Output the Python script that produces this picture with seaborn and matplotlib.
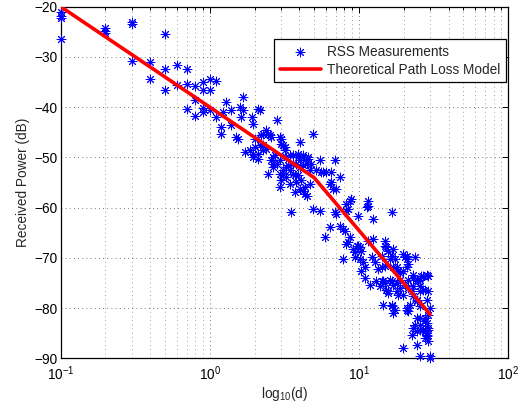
import matplotlib
matplotlib.use("Agg")
import matplotlib.pyplot as plt
import numpy as np
import pandas as pd
import seaborn as sns
from matplotlib.ticker import LogLocator, LogFormatterSciNotation, NullFormatter, FixedLocator

# ---------------- data ----------------
# RSS measurements: distance (m) and received power (dB)
dist_near = [0.1, 0.1, 0.1, 0.1, 0.2, 0.2, 0.2, 0.3, 0.3, 0.3, 0.4, 0.4, 0.5, 0.5, 0.5,
             0.6, 0.6, 0.7, 0.7, 0.7, 0.8, 0.8, 0.8, 0.9, 0.9, 0.9, 0.9, 1.0, 1.0, 1.0, 1.1, 1.1]
rss_near = [-21.0, -21.8, -22.3, -26.5, -24.3, -24.8, -25.3, -23.1, -23.5, -30.9, -31.1, -34.5, -25.5, -32.4, -36.6,
            -31.6, -35.7, -32.4, -35.5, -40.4, -35.8, -38.6, -41.7, -35.1, -36.7, -40.2, -40.9, -34.5, -36.6, -40.5, -34.9, -41.9]

dist_mid = [1.2, 1.2, 1.23, 1.29, 1.4, 1.4, 1.51, 1.55, 1.59, 1.63, 1.67, 1.67, 1.72, 1.85, 1.91,
            1.95, 1.95, 1.95, 2.0, 2.0, 2.11, 2.11, 2.11, 2.17, 2.17, 2.21, 2.28, 2.28, 2.28,
            2.4, 2.4, 2.46, 2.46, 2.53, 2.59, 2.59, 2.66, 2.66, 2.66, 2.74, 2.81, 2.81,
            2.95, 2.95, 2.95, 2.95, 3.03, 3.03, 3.03, 3.1, 3.1, 3.1, 3.19, 3.19, 3.27, 3.27, 3.27,
            3.35, 3.44, 3.44, 3.44, 3.53, 3.62, 3.62, 3.62, 3.72, 3.72, 3.82, 3.82, 3.92, 3.92, 3.92,
            4.02, 4.02, 4.02, 4.02, 4.12, 4.23, 4.23, 4.23, 4.23, 4.34, 4.34, 4.46, 4.46,
            4.57, 4.57, 4.69, 4.69, 4.8, 4.94, 4.94]
rss_mid = [-43.9, -45.3, -40.9, -38.9, -40.6, -43.6, -45.9, -46.3, -39.9, -41.9, -37.9, -40.6, -48.9, -48.6, -41.9,
           -49.3, -43.3, -49.9, -46.3, -47.9, -40.3, -50.3, -49.3, -40.6, -47.6, -45.6, -47.6, -48.6, -45.3,
           -44.6, -48.3, -45.3, -53.3, -45.6, -46.0, -50.6, -51.3, -51.9, -49.9, -49.6, -42.6, -51.3,
           -45.9, -53.3, -50.6, -55.9, -46.3, -47.3, -54.6, -47.6, -52.6, -53.3, -48.6, -47.9, -49.9, -53.9, -51.9,
           -51.6, -49.6, -55.3, -52.6, -60.9, -51.3, -49.6, -53.3, -53.6, -56.9, -51.3, -54.9, -49.3, -49.9, -53.6,
           -46.9, -50.6, -51.9, -56.3, -54.6, -49.6, -56.6, -51.6, -49.9, -55.9, -57.3, -51.3, -57.6,
           -49.9, -50.3, -52.6, -55.3, -51.3, -45.3, -60.3]

dist_far = [5.2, 5.47, 5.47, 5.6, 5.76, 5.91, 6.07, 6.39, 6.39, 6.5, 6.5, 6.73, 6.9, 6.9, 7.08, 7.08,
            7.45, 7.45, 7.85, 7.85, 8.05, 8.26, 8.26, 8.26, 8.48, 8.48, 8.7, 8.7, 8.93, 9.16, 9.4, 9.4,
            9.66, 9.89, 9.89, 10.2, 10.2, 10.4, 10.4, 10.7, 11.0, 11.0, 11.3, 11.5, 11.5, 11.5, 11.9,
            12.2, 12.5, 12.5, 12.8, 13.1, 13.5, 13.8, 14.2, 14.2, 14.2, 14.6, 14.6,
            14.9, 14.9, 14.9, 14.9, 15.3, 15.3, 15.7, 15.7, 15.7, 16.1, 16.1,
            16.6, 16.6, 16.6, 16.6, 16.6, 17.0, 17.0, 17.0, 17.0, 17.5, 17.5, 17.9, 17.9, 17.9,
            18.4, 18.4, 18.8, 18.8, 18.8, 19.8, 19.8, 19.8, 19.8, 20.4, 20.4,
            20.9, 20.9, 20.9, 20.9, 20.9, 21.4, 21.4, 21.4, 21.4, 22.0, 22.6, 22.6,
            23.1, 23.1, 23.1, 23.1, 23.1, 23.8, 23.8, 24.4, 24.4, 24.4, 24.4, 24.4, 24.4, 25.0,
            25.7, 25.7, 25.7, 25.7, 25.7, 25.7, 25.7, 25.7, 26.3, 27.0, 27.0, 27.0,
            27.7, 27.7, 27.7, 27.7, 27.7, 28.5, 28.5, 28.5, 28.5, 28.5,
            29.2, 29.2, 29.2, 29.2, 29.2, 29.2, 30.0, 30.0, 30.0]
rss_far = [-52.6, -50.6, -60.6, -52.9, -52.9, -65.9, -52.9, -55.3, -63.9, -52.9, -54.9, -56.3, -50.6, -60.9, -61.3, -56.3,
           -53.9, -63.6, -64.3, -70.3, -64.6, -59.3, -60.6, -67.3, -60.3, -66.9, -58.6, -65.9, -58.3, -68.3, -68.9, -69.9,
           -67.6, -61.6, -67.6, -67.9, -70.3, -68.6, -72.6, -70.9, -71.9, -73.9, -59.9, -58.6, -59.6, -66.6, -75.3,
           -69.9, -62.3, -66.3, -70.9, -74.6, -72.3, -75.6, -69.6, -71.9, -74.6, -74.6, -79.3,
           -66.6, -67.6, -71.6, -74.9, -67.9, -76.3, -68.6, -76.6, -76.9, -74.3, -70.3,
           -60.9, -69.6, -74.6, -79.3, -79.6, -68.3, -71.9, -75.3, -80.9, -70.3, -80.3, -74.9, -71.9, -76.6,
           -72.6, -77.3, -74.3, -75.9, -72.9, -69.3, -77.3, -87.9, -72.6, -69.9, -75.3,
           -70.3, -71.9, -79.9, -69.6, -80.3, -71.3, -74.3, -75.9, -80.6, -79.3, -76.6, -85.3,
           -73.9, -75.6, -77.6, -73.3, -83.9, -69.9, -83.3, -78.6, -81.9, -87.3, -74.3, -78.3, -84.6, -74.6,
           -74.3, -76.6, -79.6, -84.3, -89.6, -75.6, -81.9, -83.3, -73.6, -73.6, -76.3, -84.3,
           -76.3, -82.6, -84.6, -85.9, -81.9, -73.3, -85.3, -78.3, -82.9, -85.6,
           -83.9, -73.6, -76.6, -81.3, -84.3, -86.6, -79.9, -89.9, -89.6]

# Theoretical path loss model (piecewise log-distance)
model_dist = [0.1, 1.0, 5.0, 10.0, 30.0]
model_power = [-20.0, -40.0, -54.0, -64.5, -81.2]

x_ticks = [0.1, 1, 10, 100]
y_ticks = [-90, -80, -70, -60, -50, -40, -30, -20]

meas = pd.DataFrame({
    "distance": dist_near + dist_mid + dist_far,
    "power": rss_near + rss_mid + rss_far,
})
model = pd.DataFrame({"distance": model_dist, "power": model_power})

# ---------------- style ----------------
sns.set_theme(style="white")
plt.rcParams["font.family"] = ["Liberation Sans", "DejaVu Sans"]
plt.rcParams["mathtext.fontset"] = "custom"
plt.rcParams["mathtext.rm"] = "Liberation Sans"
plt.rcParams["mathtext.it"] = "Liberation Sans:italic"
plt.rcParams["mathtext.default"] = "regular"
plt.rcParams["axes.unicode_minus"] = True

FS = 9.8

fig = plt.figure(figsize=(5.28, 4.07), dpi=100)
ax = fig.add_axes([0.1146, 0.1192, 0.8475, 0.8648])

sns.scatterplot(data=meas, x="distance", y="power", ax=ax, marker=(8, 2, 0), s=40,
                color=(0, 0, 1), edgecolor=(0, 0, 1), linewidth=0.7,
                label="RSS Measurements", clip_on=False, zorder=3)
sns.lineplot(data=model, x="distance", y="power", ax=ax, color=(1, 0, 0), linewidth=2.6,
             label="Theoretical Path Loss Model", zorder=4, estimator=None, sort=False)

ax.set_xscale("log")
ax.set_xlim(0.1, 100)
ax.set_ylim(-90, -20)
ax.xaxis.set_major_locator(FixedLocator(x_ticks))
ax.xaxis.set_major_formatter(LogFormatterSciNotation())
ax.xaxis.set_minor_locator(LogLocator(base=10, subs=np.arange(2, 10)))
ax.xaxis.set_minor_formatter(NullFormatter())
ax.yaxis.set_major_locator(FixedLocator(y_ticks))

ax.set_xlabel(r"log$_{10}$(d)", fontsize=FS, labelpad=2)
ax.set_ylabel("Received Power (dB)", fontsize=FS, labelpad=3)

ax.tick_params(axis="both", which="both", direction="in", top=True, right=True,
               labelsize=FS, colors="black", width=0.7)
ax.tick_params(axis="y", which="major", length=4.5, pad=2.5)
ax.tick_params(axis="x", which="major", length=4.5, pad=4)
ax.tick_params(axis="x", which="minor", length=2.5)

ax.grid(True, which="major", axis="both", linestyle=(0, (1, 4)), linewidth=0.6, color="0.3")
ax.grid(True, which="minor", axis="x", linestyle=(0, (1, 4)), linewidth=0.6, color="0.5")
ax.set_axisbelow(True)

for sp in ax.spines.values():
    sp.set_visible(True)
    sp.set_color("black")
    sp.set_linewidth(0.9)

leg = ax.legend(loc="upper right", bbox_to_anchor=(0.9945, 0.908), fontsize=FS,
                frameon=True, fancybox=False, framealpha=1, edgecolor="black",
                handlelength=3.05, handletextpad=0.4, borderpad=0.42, labelspacing=0.3,
                scatterpoints=1, borderaxespad=0)
leg.get_frame().set_linewidth(0.9)

fig.savefig("out.png", dpi=100)
